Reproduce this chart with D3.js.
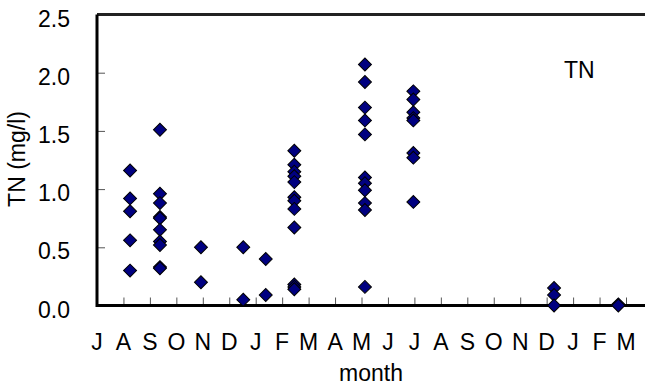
<!DOCTYPE html>
<html>
<head>
  <script src="https://d3js.org/d3.v7.min.js"></script>
  <style>
    body {
      margin: 0;
      background-color: #fff;
      font-family: "Liberation Sans", Arial, sans-serif;
    }

    .tick-label, .axis-label, .series-label {
      font-size: 23px;
      fill: #000;
    }

    .point {
      fill: #000080; /* navy diamonds */
      stroke: #000;
      stroke-width: 1px;
    }
  </style>
</head>
<body>
  <div id="chart"></div>
  <script>
    // Data: month labels along the x axis (starting in July)
    const monthLabels = ["J", "A", "S", "O", "N", "D", "J", "F", "M", "A", "M",
                         "J", "J", "A", "S", "O", "N", "D", "J", "F", "M"];
    const yTickValues = [0, 0.5, 1.0, 1.5, 2.0, 2.5];

    // Sampling dates, in months since the first July
    const sampleDates = [1.25, 2.38, 3.93, 5.53, 6.38, 7.46, 10.13, 11.96, 17.28, 19.71];

    // TN (mg/l) measured on each sampling date
    const tnValues = [
      [1.16, 0.92, 0.81, 0.56, 0.30],
      [1.51, 0.96, 0.88, 0.76, 0.75, 0.65, 0.55, 0.52, 0.33, 0.32],
      [0.50, 0.20],
      [0.50, 0.05],
      [0.40, 0.09],
      [1.33, 1.21, 1.15, 1.11, 1.06, 0.93, 0.90, 0.83, 0.67, 0.18, 0.16, 0.14],
      [2.07, 1.92, 1.70, 1.59, 1.47, 1.10, 1.05, 0.99, 0.88, 0.82, 0.16],
      [1.84, 1.77, 1.66, 1.61, 1.59, 1.31, 1.27, 0.89],
      [0.15, 0.09, 0.00],
      [0.01, 0.00]
    ];

    // Constants
    const W = 645, H = 385;
    const margin = { top: 14.5, right: 0, bottom: 79.5, left: 97 };
    const width = W - margin.left - margin.right;
    const height = H - margin.top - margin.bottom;

    const svg = d3.select("#chart")
      .append("svg")
      .attr("width", W)
      .attr("height", H);

    const g = svg.append("g")
      .attr("transform", `translate(${margin.left}, ${margin.top})`);

    // Scales (x in months, one unit = one month)
    const xScale = d3.scaleLinear()
      .domain([0, width / 26.45])
      .range([0, width]);

    const yScale = d3.scaleLinear()
      .domain([0, 2.5])
      .range([height, 0]);

    // Inner ticks
    const xAxis = d3.axisTop(xScale)
      .tickValues(d3.range(1, monthLabels.length))
      .tickSize(8)
      .tickFormat("");

    g.append("g")
      .attr("transform", `translate(0, ${height})`)
      .call(xAxis)
      .call(a => a.select(".domain").remove())
      .selectAll("line")
      .attr("stroke", "#555");

    const yAxis = d3.axisRight(yScale)
      .tickValues(yTickValues.slice(1, -1))
      .tickSize(8)
      .tickFormat("");

    g.append("g")
      .call(yAxis)
      .call(a => a.select(".domain").remove())
      .selectAll("line")
      .attr("stroke", "#555");

    // Frame lines
    g.append("line")
      .attr("x1", 0).attr("x2", width)
      .attr("y1", 0).attr("y2", 0)
      .attr("stroke", "#222")
      .attr("stroke-width", 3);

    g.append("path")
      .attr("d", `M0,0V${height}H${width}`)
      .attr("fill", "none")
      .attr("stroke", "#000")
      .attr("stroke-width", 3);

    // Tick labels
    g.selectAll(".y-label")
      .data(yTickValues)
      .enter().append("text")
      .attr("class", "tick-label")
      .attr("x", -27)
      .attr("y", d => yScale(d) + 12)
      .attr("text-anchor", "end")
      .text(d => d3.format(".1f")(d));

    g.selectAll(".x-label")
      .data(monthLabels)
      .enter().append("text")
      .attr("class", "tick-label")
      .attr("x", (d, i) => xScale(i))
      .attr("y", height + 44.5)
      .attr("text-anchor", "middle")
      .text(d => d);

    // Axis titles
    g.append("text")
      .attr("class", "axis-label")
      .attr("x", width / 2)
      .attr("y", height + 75)
      .attr("text-anchor", "middle")
      .text("month");

    g.append("text")
      .attr("class", "axis-label")
      .attr("transform", "rotate(-90)")
      .attr("x", -144.5)
      .attr("y", -72)
      .attr("text-anchor", "middle")
      .text("TN (mg/l)");

    g.append("text")
      .attr("class", "series-label")
      .attr("x", 467)
      .attr("y", 63.5)
      .text("TN");

    // Points
    const points = [];
    sampleDates.forEach((t, i) => {
      tnValues[i].forEach(v => points.push({ t, v }));
    });

    const diamond = d3.symbol().type(d3.symbolSquare).size(84);

    g.selectAll(".point")
      .data(points)
      .enter().append("path")
      .attr("class", "point")
      .attr("d", diamond)
      .attr("transform", d => `translate(${xScale(d.t)}, ${yScale(d.v)}) rotate(45)`);
  </script>
</body>
</html>
